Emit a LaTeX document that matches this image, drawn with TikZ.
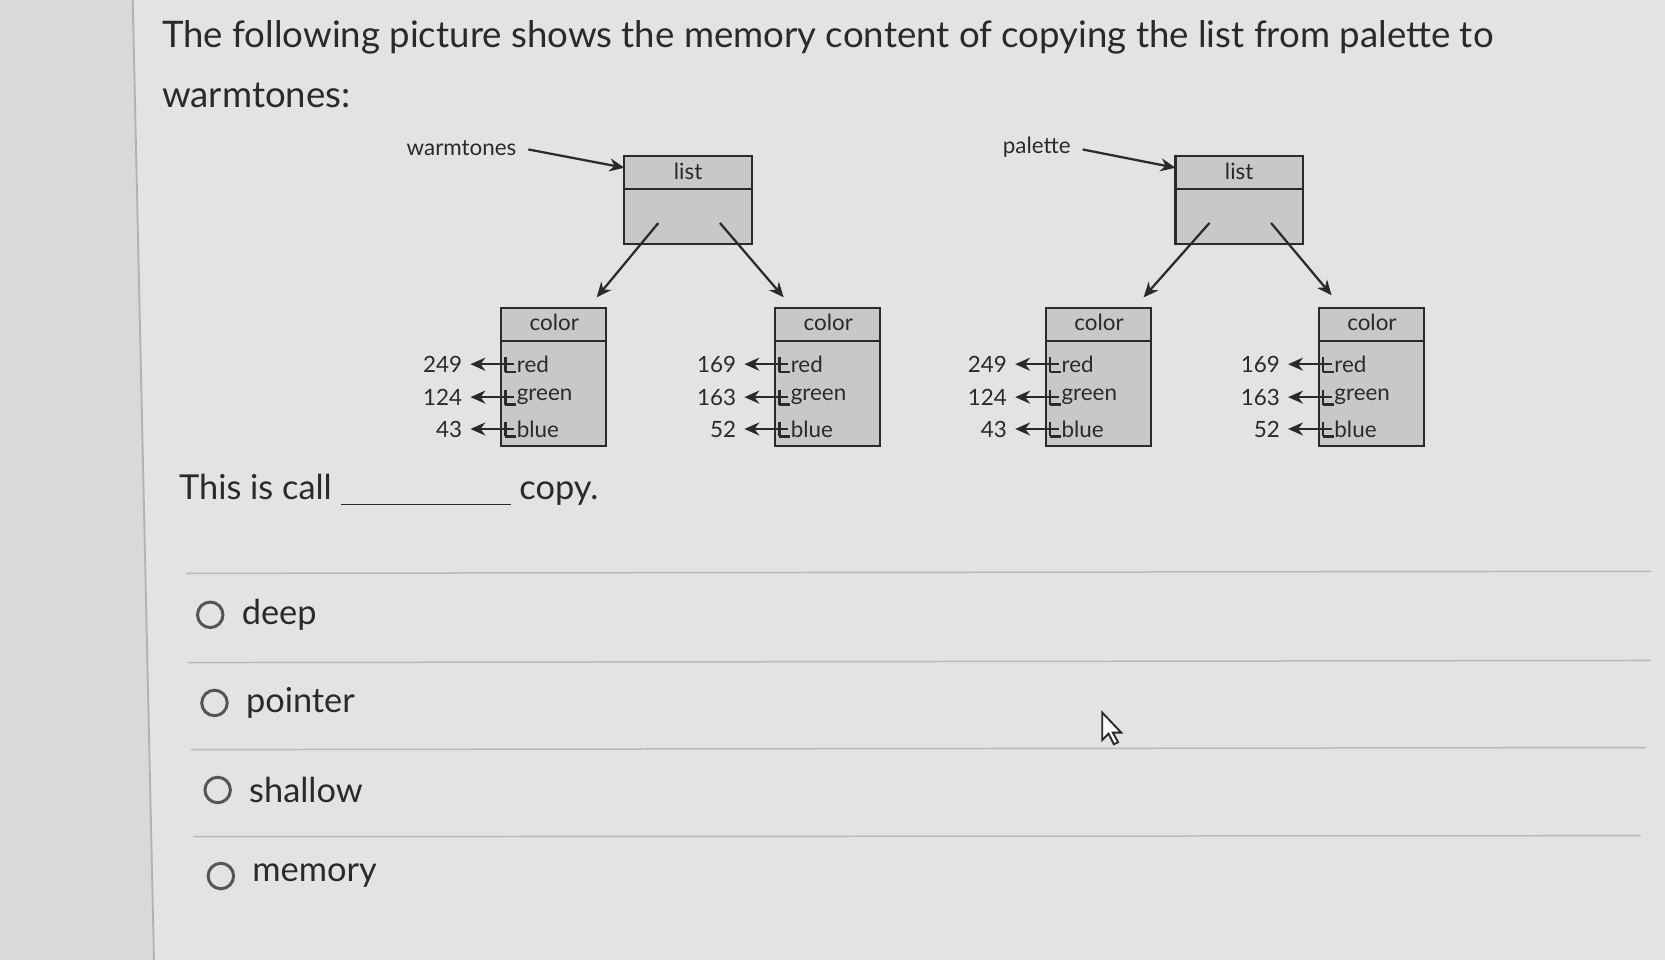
\documentclass[tikz,border=0pt]{standalone}
\usepackage{fontspec}
\setmainfont{Lato}
\usetikzlibrary{arrows.meta}
\definecolor{bg}{HTML}{E3E3E3}
\definecolor{boxfill}{HTML}{C8C8C8}
\definecolor{ink}{HTML}{2A2A2A}
\tikzset{
  big/.style={font=\fontsize{9.2pt}{11pt}\selectfont, text=ink, inner sep=0pt},
  title/.style={font=\fontsize{9.8pt}{11pt}\selectfont, text=ink, inner sep=0pt},
  small/.style={font=\fontsize{6pt}{7pt}\selectfont, text=ink, inner sep=0pt},
  box/.style={draw=ink, fill=boxfill, line width=0.6pt},
  ptr/.style={-{Stealth[length=4pt,width=3.5pt]}, ink, line width=0.6pt},
  sep/.style={draw=gray!55, line width=0.4pt},
}
\begin{document}
\begin{tikzpicture}[x=0.01cm,y=-0.01cm]
\useasboundingbox (0,0) rectangle (1568,904);
\fill[bg] (0,0) rectangle (1568,904);
\fill[gray!30] (0,0) -- (125,0) -- (145,904) -- (0,904) -- cycle;
\draw[gray!60, line width=0.5pt] (125,0) -- (145,904);
\node[title, anchor=west] (t1) at (152,35) {The following picture shows the memory content of copying the list from palette to};
\node[title, anchor=west] (t2) at (152,90) {warmtones:};
% list boxes
\foreach \n/\x in {L/588, R/1107}{
  \draw[box] (\x,147) rectangle ++(120,83);
  \draw[ink, line width=0.6pt] (\x,178) -- ++(120,0);
  \node[small] (\n list) at (\x+60,161) {list};
  \coordinate (\n a) at (\x+32,210);
  \coordinate (\n b) at (\x+90,210);
}
\node[small, anchor=east] (wt) at (487,139) {warmtones};
\node[small, anchor=east] (pal) at (1009,139) {palette};
\coordinate (wtend) at (588,158);
\coordinate (palend) at (1107,158);
\draw[ptr] ([xshift=3pt,yshift=-0.5pt]wt.east) -- (wtend);
\draw[ptr] ([xshift=3pt,yshift=-0.5pt]pal.east) -- (palend);
% color boxes
\foreach \n/\x/\a/\b/\c in {c1/472/249/124/43, c2/730/169/163/52, c3/985/249/124/43, c4/1242/169/163/52}{
  \draw[box] (\x,290) rectangle ++(99,130);
  \draw[ink, line width=0.6pt] (\x,321) -- ++(99,0);
  \node[small] (\n h) at (\x+50,304) {color};
  \foreach \f/\y/\v in {red/343/\a, green/374/\b, blue/404/\c}{
    \node[small, anchor=west] (\n\f) at (\x+14,\y) {\f};
    \draw[ink, line width=0.6pt] (\x+14,\y+7) -- (\x+4,\y+7);
    \draw[ink, line width=0.6pt] (\x+4,\y-7) -- (\x+4,\y+7);
    \node[small, anchor=east] (\n\f v) at (\x-36,\y) {\v};
    \draw[ptr, shorten >=2pt] (\x+12,\y) -- (\n\f v.east);
  }
}
\coordinate (La2) at (562,280); \coordinate (Lb2) at (738,280);
\coordinate (Ra2) at (1077,280); \coordinate (Rb2) at (1254,278);
\draw[ptr] (La) -- (La2);
\draw[ptr] (Lb) -- (Lb2);
\draw[ptr] (Ra) -- (Ra2);
\draw[ptr] (Rb) -- (Rb2);
% question
\node[big, anchor=west] (q) at (168,462) {This is call \underline{\hspace{1.6cm}} copy.};
\foreach \y/\x/\t/\i in {579/198/deep/1, 662/202/pointer/2, 744/205/shallow/3, 825/208/memory/4}{
  \draw[ink!80, line width=0.8pt] (\x,\y) circle (12);
  \node[big, anchor=west] (o\i) at (\x+29,\y) {\t};
}
\draw[sep] (175,540) -- (1555,538);
\draw[sep] (177,624) -- (1555,622);
\draw[sep] (180,706) -- (1550,704);
\draw[sep] (182,788) -- (1545,787);
% cursor
\draw[ink, fill=white, line width=0.5pt] (1038,671) -- (1038,697) -- (1044,691) -- (1049,701) -- (1053,699) -- (1048,690) -- (1056,690) -- cycle;
\end{tikzpicture}
\end{document}
